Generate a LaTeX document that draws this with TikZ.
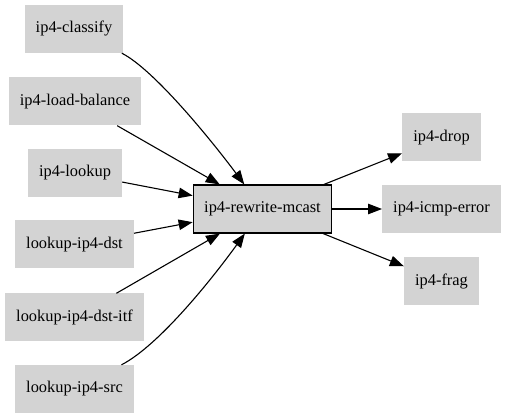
\documentclass[tikz,border=0pt]{standalone}
\usepackage{fontspec}
\setmainfont{Liberation Serif}
\usetikzlibrary{arrows.meta}
\tikzset{
  gnode/.style={fill={rgb,255:red,211;green,211;blue,211}, inner xsep=11pt, inner ysep=0pt,
    minimum height=48pt, font=\fontsize{16.4}{20}\selectfont},
  mnode/.style={gnode, draw=black, line width=1.1pt},
  edge/.style={-{Triangle[length=14pt,width=10.5pt]}, line width=1.1pt}
}
\begin{document}
\begin{tikzpicture}[x=1pt,y=-1pt]
        \useasboundingbox (0,0) rectangle (507,419);

        \node [gnode] (cls) at (74,29) {ip4-classify};
        \node [gnode] (lb) at (75,101.5) {ip4-load-balance};
        \node [gnode] (lkp) at (75,173) {ip4-lookup};
        \node [gnode] (dst) at (74.5,244.5) {lookup-ip4-dst};
        \node [gnode] (itf) at (74.5,317.5) {lookup-ip4-dst-itf};
        \node [gnode] (src) at (74.5,389) {lookup-ip4-src};

        \node [mnode] (rw) at (262.5,209) {ip4-rewrite-mcast};

        \node [gnode] (drop) at (441.5,137.5) {ip4-drop};
        \node [gnode] (icmp) at (441.5,209) {ip4-icmp-error};
        \node [gnode] (frag) at (441.5,281.5) {ip4-frag};

        \draw [edge] (cls) .. controls (155,70) and (215,145) .. (rw);
        \draw [edge] (lb) -- (rw);
        \draw [edge] (lkp) -- (rw);
        \draw [edge] (dst) -- (rw);
        \draw [edge] (itf) -- (rw);
        \draw [edge] (src) .. controls (160,345) and (215,275) .. (rw);

        \draw [edge] (rw) -- (drop);
        \draw [edge] (rw) -- (icmp);
        \draw [edge] (rw) -- (frag);
    \end{tikzpicture}
\end{document}
